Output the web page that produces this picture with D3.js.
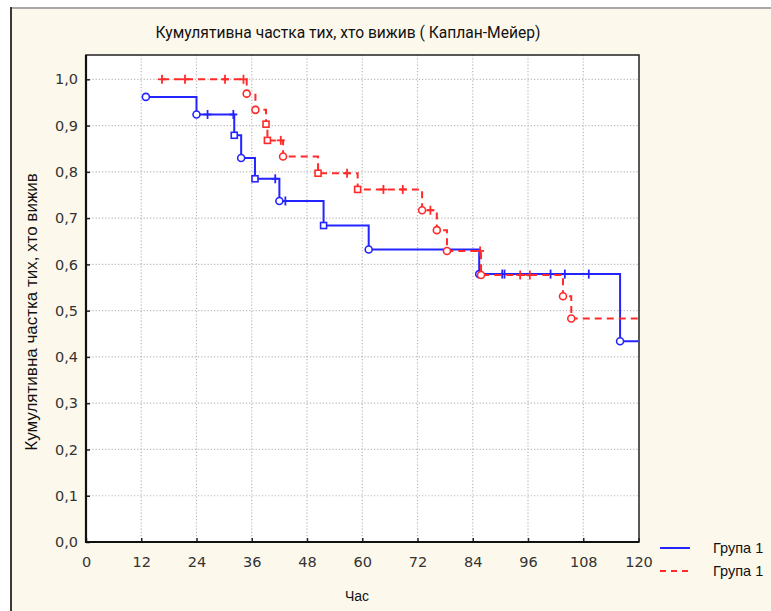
<!DOCTYPE html>
<html>
<head>
<meta charset="utf-8">
<script src="https://cdn.jsdelivr.net/npm/d3@7"></script>
<style>
  body { margin: 0; background: #ffffff; }
  svg { display: block; }
</style>
</head>
<body>
<div id="chart"></div>
<script>
// Kaplan-Meier survival curves, two groups

// Group 1 (blue, solid): event times, survival after each event, marker type
const g1Times = [13, 24, 32.2, 33.7, 36.7, 42, 51.6, 61.4, 85.4, 116];
const g1Surv = [0.962, 0.924, 0.879, 0.830, 0.785, 0.737, 0.684, 0.632, 0.579, 0.434];
const g1Marks = ["o", "o", "s", "o", "s", "o", "s", "o", "o", "o"];
const g1Censored = [26.4, 32.0, 41.1, 43.3, 90.4, 90.9, 100.9, 104, 109.2];

// Group 2 (red, dashed)
const g2Start = 16.5;
const g2Times = [34.9, 36.8, 39.1, 39.4, 42.8, 50.4, 59, 73, 76.2, 78.4, 85.8, 103.6, 105.4];
const g2Surv = [0.969, 0.934, 0.903, 0.868, 0.833, 0.797, 0.762, 0.717, 0.674, 0.629, 0.577, 0.531, 0.483];
const g2Marks = ["o", "o", "s", "s", "o", "s", "s", "o", "o", "o", "o", "o", "o"];
const g2Censored = [16.5, 21.5, 30.2, 34.2, 42.3, 56.7, 64.6, 68.8, 74.8, 85.6, 94.3, 96.4];

const xTicks = [0, 12, 24, 36, 48, 60, 72, 84, 96, 108, 120];
const yTicks = [0, 0.1, 0.2, 0.3, 0.4, 0.5, 0.6, 0.7, 0.8, 0.9, 1.0];
const legendLabels = ["Група 1", "Група 1"];

const width = 771, height = 611;
const plot = {left: 86, top: 55, right: 639, bottom: 542};
const tEnd = 120;

const svg = d3.select("#chart").append("svg")
    .attr("width", width)
    .attr("height", height);

// Panel background
svg.append("rect")
    .attr("x", 11).attr("y", 8)
    .attr("width", width).attr("height", height)
    .attr("fill", "#fdf8ec");
svg.append("line")
    .attr("x1", 11).attr("x2", width).attr("y1", 8).attr("y2", 8)
    .attr("stroke", "#a8a8a8").attr("stroke-width", 2);
svg.append("line")
    .attr("x1", 11).attr("x2", 11).attr("y1", 7).attr("y2", height)
    .attr("stroke", "#3a3a3a").attr("stroke-width", 2);

// Plot area
svg.append("rect")
    .attr("x", plot.left).attr("y", plot.top)
    .attr("width", plot.right - plot.left).attr("height", plot.bottom - plot.top)
    .attr("fill", "#ffffff");

// Scales
const x = d3.scaleLinear().domain([0, 120]).range([86, 638.5]);
const y = d3.scaleLinear().domain([0, 1]).range([542, 79.3]);

// Grid
svg.append("g").selectAll("line")
    .data(xTicks.filter(d => d > 0 && d < 120))
    .enter().append("line")
    .attr("x1", d => x(d)).attr("x2", d => x(d))
    .attr("y1", plot.top).attr("y2", plot.bottom)
    .attr("stroke", "#b8b8b8").attr("stroke-width", 1.2)
    .attr("stroke-dasharray", "1.2,2");
svg.append("g").selectAll("line")
    .data(yTicks.filter(d => d > 0))
    .enter().append("line")
    .attr("x1", plot.left).attr("x2", plot.right)
    .attr("y1", d => y(d)).attr("y2", d => y(d))
    .attr("stroke", "#b8b8b8").attr("stroke-width", 1.2)
    .attr("stroke-dasharray", "1.2,2");

// Axes
const xAxis = svg.append("g")
    .attr("transform", "translate(0," + plot.bottom + ")")
    .call(d3.axisBottom(x).tickValues(xTicks).tickSizeInner(-4).tickSizeOuter(0).tickPadding(15));
const yAxis = svg.append("g")
    .attr("transform", "translate(" + plot.left + ",0)")
    .call(d3.axisLeft(y).tickValues(yTicks)
        .tickFormat(d => d.toFixed(1).replace(".", ","))
        .tickSizeInner(-4).tickSizeOuter(0).tickPadding(8));
[xAxis, yAxis].forEach(g => {
    g.select(".domain").remove();
    g.selectAll(".tick line").attr("stroke", "#222").attr("stroke-width", 1.5);
    g.selectAll("text")
        .attr("fill", "#333")
        .style("font-family", "'DejaVu Sans', Verdana, sans-serif")
        .style("font-size", "14.5px");
});

// Frame
svg.append("rect")
    .attr("x", plot.left).attr("y", plot.top)
    .attr("width", plot.right - plot.left).attr("height", plot.bottom - plot.top)
    .attr("fill", "none").attr("stroke", "#222").attr("stroke-width", 1.5);
svg.append("path")
    .attr("d", `M${plot.left},${plot.top} V${plot.bottom} H${plot.right}`)
    .attr("fill", "none").attr("stroke", "#111").attr("stroke-width", 2.2);

// Curves
const line = d3.line().x(d => x(d[0])).y(d => y(d[1])).curve(d3.curveStepAfter);

function survAt(t, times, surv, s0) {
    let s = s0;
    times.forEach((tt, i) => { if (tt <= t) s = surv[i]; });
    return s;
}

function marker(g, cx, cy, type, color) {
    if (type === "s") {
        g.append("rect").attr("x", cx - 3).attr("y", cy - 3).attr("width", 6).attr("height", 6)
            .attr("fill", "#fff").attr("stroke", color).attr("stroke-width", 1.6);
    } else {
        g.append("circle").attr("cx", cx).attr("cy", cy).attr("r", 3.5)
            .attr("fill", "#fff").attr("stroke", color).attr("stroke-width", 1.6);
    }
}

function drawGroup(start, s0, times, surv, marks, censored, color, dash) {
    const pts = [[start, s0]];
    times.forEach((t, i) => pts.push([t, surv[i]]));
    pts.push([tEnd, surv[surv.length - 1]]);

    svg.append("path")
        .datum(pts)
        .attr("d", line)
        .attr("fill", "none")
        .attr("stroke", color)
        .attr("stroke-width", 2)
        .attr("stroke-dasharray", dash);

    const cg = svg.append("g");
    censored.forEach(t => {
        const cx = x(t), cy = y(survAt(t, times, surv, s0));
        cg.append("line").attr("x1", cx).attr("x2", cx).attr("y1", cy - 4.5).attr("y2", cy + 4.5)
            .attr("stroke", color).attr("stroke-width", 1.8);
        cg.append("line").attr("x1", cx - 4).attr("x2", cx + 4).attr("y1", cy).attr("y2", cy)
            .attr("stroke", color).attr("stroke-width", 1.8);
    });

    const mg = svg.append("g");
    times.forEach((t, i) => marker(mg, x(t), y(surv[i]), marks[i], color));
    return mg;
}

const g1m = drawGroup(g1Times[0], g1Surv[0], g1Times.slice(1), g1Surv.slice(1), g1Marks.slice(1), g1Censored, "#2424ff", null);
marker(g1m, x(g1Times[0]), y(g1Surv[0]), g1Marks[0], "#2424ff");
drawGroup(g2Start, 1.0, g2Times, g2Surv, g2Marks, g2Censored, "#ff2a2a", "7,5");

// Titles
svg.append("text")
    .attr("x", 348).attr("y", 38)
    .attr("text-anchor", "middle")
    .style("font-family", "Roboto, sans-serif").style("font-size", "15.6px")
    .attr("fill", "#111")
    .text("Кумулятивна частка тих, хто вижив ( Каплан-Мейер)");

svg.append("text")
    .attr("transform", "translate(37,312) rotate(-90)")
    .attr("text-anchor", "middle")
    .style("font-family", "'Liberation Sans', Arial, sans-serif").style("font-size", "17px")
    .attr("fill", "#111")
    .text("Кумулятивна частка тих, хто вижив");

svg.append("text")
    .attr("x", 357).attr("y", 601)
    .attr("text-anchor", "middle")
    .style("font-family", "'Liberation Sans', Arial, sans-serif").style("font-size", "14px")
    .attr("fill", "#111")
    .text("Час");

// Legend
const legendColors = ["#2424ff", "#ff2a2a"];
const legendDash = [null, "6,5"];
legendLabels.forEach((lab, i) => {
    const ly = 548 + i * 23;
    svg.append("line")
        .attr("x1", 660).attr("x2", 690).attr("y1", ly).attr("y2", ly)
        .attr("stroke", legendColors[i]).attr("stroke-width", 2)
        .attr("stroke-dasharray", legendDash[i]);
    svg.append("text")
        .attr("x", 713).attr("y", ly + 5)
        .style("font-family", "'Liberation Sans', Arial, sans-serif").style("font-size", "14.5px")
        .attr("fill", "#111")
        .text(lab);
});
</script>
</body>
</html>
